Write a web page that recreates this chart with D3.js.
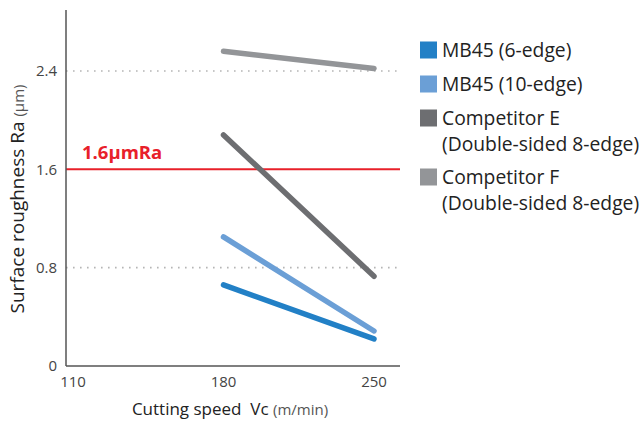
<!DOCTYPE html>
<html><head><meta charset="utf-8">
<script src="https://cdn.jsdelivr.net/npm/d3@7"></script>
<style>body{margin:0;background:#fff}svg{display:block}text{font-family:"Open Sans","Noto Sans",sans-serif}</style>
</head><body>
<svg id="c" width="643" height="421"></svg>
<script>
const speeds = [180, 250];
const seriesNames = ["MB45 (6-edge)", "MB45 (10-edge)", "Competitor E", "Competitor F"];
const seriesSub = ["", "", "(Double-sided 8-edge)", "(Double-sided 8-edge)"];
const mb45_6 = [0.66, 0.22];
const mb45_10 = [1.05, 0.285];
const compE = [1.88, 0.73];
const compF = [2.56, 2.42];
const yTicks = [0, 0.8, 1.6, 2.4];
const xTicks = [110, 180, 250];
const colors = ["#2280c6", "#6b9fd6", "#6d6e71", "#939598"];
const limit = 1.6;

const svg = d3.select("#c");
const x = d3.scaleLinear().domain([110, 250]).range([73, 374]);
const y = d3.scaleLinear().domain([0, 2.4]).range([366, 71]);
const x0 = 66, x1 = 400, yTop = 10, yBot = 366;

// dotted grid
svg.selectAll(".grid").data(yTicks.filter(d => d !== 0 && d !== limit)).enter()
  .append("line").attr("x1", x0).attr("x2", x1).attr("y1", d => y(d)).attr("y2", d => y(d))
  .attr("stroke", "#b5b5b5").attr("stroke-width", 1.6).attr("stroke-dasharray", "1.6,5.4");

// red limit line
svg.append("line").attr("x1", x0).attr("x2", x1).attr("y1", y(limit)).attr("y2", y(limit))
  .attr("stroke", "#e8202a").attr("stroke-width", 2);
svg.append("text").attr("x", 82).attr("y", y(limit) - 10).attr("fill", "#e8202a")
  .attr("font-size", 18.5).attr("font-weight", "bold").text("1.6μmRa");

// axes
svg.append("line").attr("x1", x0).attr("x2", x0).attr("y1", yTop).attr("y2", yBot)
  .attr("stroke", "#555").attr("stroke-width", 1.5);
svg.append("line").attr("x1", x0).attr("x2", x1).attr("y1", yBot).attr("y2", yBot)
  .attr("stroke", "#555").attr("stroke-width", 1.5);

svg.selectAll(".yt").data(yTicks).enter().append("text")
  .attr("x", 57).attr("y", d => y(d)).attr("dy", "0.36em").attr("text-anchor", "end")
  .attr("font-size", 15).attr("fill", "#444").text(d => d === 0 ? "0" : d.toFixed(1));
svg.selectAll(".xt").data(xTicks).enter().append("text")
  .attr("x", d => x(d)).attr("y", 387).attr("text-anchor", "middle")
  .attr("font-size", 15).attr("fill", "#444").text(d => d);

// axis titles
const xt = svg.append("text").attr("x", 230).attr("y", 415).attr("text-anchor", "middle").attr("fill", "#222");
xt.append("tspan").attr("font-size", 17).text("Cutting speed\u00a0\u00a0Vc\u00a0");
xt.append("tspan").attr("font-size", 15).attr("fill", "#555").text("(m/min)");
const yt = svg.append("text").attr("transform", "translate(24,199) rotate(-90)").attr("text-anchor", "middle").attr("fill", "#222");
yt.append("tspan").attr("font-size", 19).text("Surface roughness Ra\u00a0");
yt.append("tspan").attr("font-size", 15).attr("fill", "#555").text("(μm)");

// lines (draw gray first, blue on top)
const data = [mb45_6, mb45_10, compE, compF];
const line = d3.line().x((d, i) => x(speeds[i])).y(d => y(d));
[3, 2, 1, 0].forEach(i => {
  svg.append("path").attr("d", line(data[i])).attr("fill", "none")
    .attr("stroke", colors[i]).attr("stroke-width", 5.5).attr("stroke-linecap", "round");
});

// legend
const rowY = [50, 84, 118, 177];
seriesNames.forEach((n, i) => {
  svg.append("rect").attr("x", 420).attr("y", rowY[i] - 8.5).attr("width", 17).attr("height", 17).attr("fill", colors[i]);
  svg.append("text").attr("x", 442).attr("y", rowY[i]).attr("dy", "0.36em").attr("font-size", 19.3).attr("fill", "#222").text(n);
  if (seriesSub[i]) svg.append("text").attr("x", 442).attr("y", rowY[i] + 26).attr("dy", "0.36em").attr("font-size", 19.3).attr("fill", "#222").text(seriesSub[i]);
});
</script>
</body></html>
